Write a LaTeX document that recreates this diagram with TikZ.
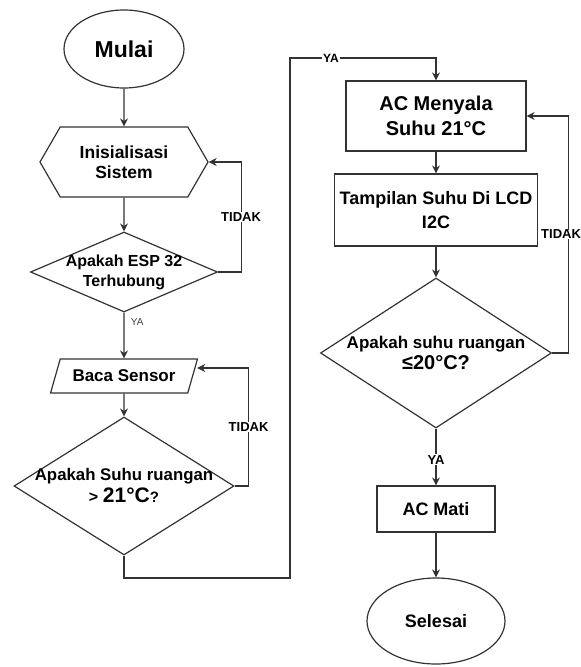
\documentclass[tikz,border=0pt]{standalone}
\usepackage{fontspec}
\setmainfont{Liberation Sans}
\usetikzlibrary{shapes.geometric,shapes.symbols,arrows.meta,positioning}

\tikzset{
  garis/.style={line width=1.2pt, draw=black!80},
  panah/.style={garis, -{Stealth[length=8pt,width=8pt]}},
  terminal/.style={ellipse, garis, inner sep=0pt},
  proses/.style={rectangle, garis, inner sep=0pt, align=center},
  persiapan/.style={signal, signal to=west and east, signal pointer angle=120, garis, inner sep=0pt, align=center},
  masukan/.style={trapezium, trapezium left angle=57, trapezium right angle=123, trapezium stretches=true, garis, inner sep=0pt},
  keputusan/.style={diamond, garis, inner sep=0pt},
  ket/.style={fill=white, inner sep=1pt, font=\bfseries\fontsize{13}{15}\selectfont},
  isi/.style={font=\bfseries\fontsize{18}{22}\selectfont, align=center}
}

\begin{document}
\begin{tikzpicture}[x=1pt, y=-1pt]
  \useasboundingbox (0,0) rectangle (581,667);

  % kolom kiri
  \node[terminal, minimum width=120pt, minimum height=78pt, font=\bfseries\fontsize{23}{27}\selectfont] (mulai) at (124,49) {Mulai};
  \node[persiapan, minimum width=168pt, minimum height=70pt, font=\bfseries\fontsize{17.5}{20}\selectfont] (init) at (124,162) {Inisialisasi\\Sistem};
  \node[keputusan, minimum width=187pt, minimum height=80pt,
        label={[isi, font=\bfseries\fontsize{16}{20}\selectfont]center:{Apakah ESP 32\\Terhubung}}] (esp) at (124,272) {};
  \node[masukan, minimum width=147pt, minimum height=34pt, font=\bfseries\fontsize{17}{20}\selectfont] (baca) at (124,376) {Baca Sensor};
  \node[keputusan, minimum width=220pt, minimum height=138pt,
        label={[isi, font=\bfseries\fontsize{16.8}{22}\selectfont]center:{Apakah Suhu ruangan\\{\fontsize{16}{20}\selectfont>} {\fontsize{21}{22}\selectfont 21°C}{\fontsize{15}{20}\selectfont ?}}}] (suhu) at (124,486) {};

  % kolom kanan
  \node[proses, minimum width=180pt, minimum height=70pt, font=\bfseries\fontsize{20}{25}\selectfont] (acon) at (436,116) {AC Menyala\\Suhu 21°C};
  \node[proses, minimum width=203pt, minimum height=72pt, font=\bfseries\fontsize{18}{24}\selectfont] (tampil) at (436,210) {Tampilan Suhu Di LCD\\I2C};
  \node[keputusan, minimum width=231pt, minimum height=150pt,
        label={[isi, font=\bfseries\fontsize{17}{21}\selectfont]center:{Apakah suhu ruangan\\{\fontsize{20}{21}\selectfont ≤20°C?}}}] (rendah) at (436,353) {};
  \node[proses, minimum width=118pt, minimum height=46pt, font=\bfseries\fontsize{18}{22}\selectfont] (mati) at (436,509) {AC Mati};
  \node[terminal, minimum width=138pt, minimum height=86pt, font=\bfseries\fontsize{18}{22}\selectfont] (selesai) at (436,621) {Selesai};

  \coordinate (bawah) at (290,578);
  \coordinate (atas) at (290,58);

  % alur
  \draw[panah] (mulai) -- (init);
  \draw[panah] (init) -- (esp);
  \draw[panah] (esp.east) -- ++(23,0) |- (init.east) node[ket, pos=0.25] {TIDAK};
  \draw[panah] (esp.south) -- (baca.north) node[pos=0.2, right=3pt, font=\fontsize{10}{12}\selectfont, text=black!75] {YA};
  \draw[panah] (baca) -- (suhu);
  \draw[panah] (suhu.east) -- ++(14,0) |- ([xshift=4pt,yshift=8pt]baca.east) node[ket, pos=0.25] {TIDAK};
  \draw[panah] (suhu.south) |- (bawah) -- (atas) -| (acon.north) node[ket, pos=0.14, font=\bfseries\fontsize{12}{14}\selectfont] {YA};
  \draw[panah] (acon) -- (tampil);
  \draw[panah] (tampil) -- (rendah);
  \draw[panah] (rendah.east) -- ++(16,0) |- (acon.east) node[ket, pos=0.25, xshift=-7pt, inner sep=0.5pt] {TIDAK};
  \draw[panah] (rendah.south) -- (mati.north) node[ket, pos=0.55] {YA};
  \draw[panah] (mati) -- (selesai);
\end{tikzpicture}
\end{document}
